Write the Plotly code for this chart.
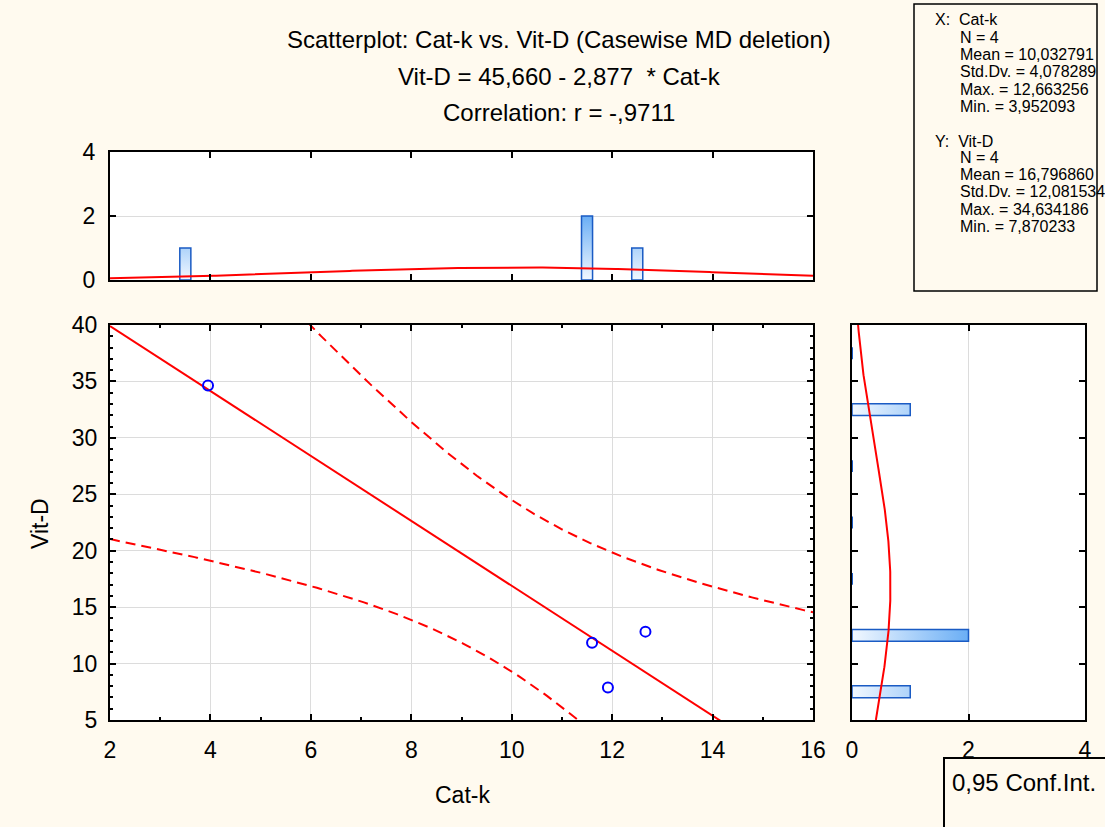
import numpy as np
import plotly.graph_objects as go

W, H = 1105, 827

# ---------------- data ----------------
cat_k = [3.952093, 11.60, 11.916, 12.663256]
vit_d = [34.634186, 11.85, 7.870233, 12.83]

x_name, y_name = "Cat-k", "Vit-D"
n_obs = 4
x_mean, x_sd, x_max, x_min = 10.032791, 4.078289, 12.663256, 3.952093
y_mean, y_sd, y_max, y_min = 16.796860, 12.081534, 34.634186, 7.870233
intercept, slope = 45.660, -2.877
r_corr = -0.9711
t_crit = 4.302653  # t(0.975, df=2)
conf_label = "0,95 Conf.Int."

x_bins = np.arange(2, 17, 1)     # histogram bins for Cat-k
y_bins = np.arange(5, 45, 5)     # histogram bins for Vit-D

main_x_range, main_y_range = [2, 16], [5, 40]
hist_count_range = [0, 4]

# ---------------- helpers ----------------
def px(x):
    return x / W


def py(y):
    return 1 - y / H


def fmt(v):
    return f"{v:.6f}".replace(".", ",")


FONT = "Liberation Sans, Arial, sans-serif"
RED = "#FF0000"
BLUE = "#0000FF"
BG = "#FFFAEF"
BAR_EDGE = "#1A5BC4"
BAR_SCALE = [[0, "#F2F8FF"], [1, "#6AAEF5"]]

fig = go.Figure()

# regression line and confidence bands
xs = np.linspace(main_x_range[0], main_x_range[1], 300)
yhat = intercept + slope * xs
s_res = np.sqrt((1 - r_corr ** 2) * (n_obs - 1) * y_sd ** 2 / (n_obs - 2))
sxx = (n_obs - 1) * x_sd ** 2
hw = t_crit * s_res * np.sqrt(1 / n_obs + (xs - x_mean) ** 2 / sxx)

fig.add_trace(go.Scatter(x=xs, y=yhat, mode="lines",
                         line=dict(color=RED, width=2), xaxis="x", yaxis="y"))
for band in (yhat + hw, yhat - hw):
    fig.add_trace(go.Scatter(x=xs, y=band, mode="lines",
                             line=dict(color=RED, width=2, dash="10px,6px"),
                             xaxis="x", yaxis="y"))

fig.add_trace(go.Scatter(x=cat_k, y=vit_d, mode="markers",
                         marker=dict(symbol="circle-open", size=10,
                                     color=BLUE, line=dict(width=2, color=BLUE)),
                         xaxis="x", yaxis="y"))

# top histogram (Cat-k) - gradient bars
cx, ex = np.histogram(cat_k, bins=x_bins)
cen_x = (ex[:-1] + ex[1:]) / 2
bw_x = ex[1] - ex[0]
half_x = 0.11 * bw_x
for c, cnt in zip(cen_x, cx):
    if cnt <= 0:
        continue
    fig.add_trace(go.Scatter(
        x=[c - half_x, c + half_x, c + half_x, c - half_x, c - half_x],
        y=[0, 0, cnt, cnt, 0], mode="lines", fill="toself",
        fillgradient=dict(type="vertical", colorscale=BAR_SCALE, start=0, stop=2),
        line=dict(color=BAR_EDGE, width=1.5), xaxis="x2", yaxis="y2"))
gx = np.linspace(main_x_range[0], main_x_range[1], 300)
gy = n_obs * bw_x * np.exp(-0.5 * ((gx - x_mean) / x_sd) ** 2) / (x_sd * np.sqrt(2 * np.pi))
fig.add_trace(go.Scatter(x=gx, y=gy, mode="lines", line=dict(color=RED, width=2),
                         xaxis="x2", yaxis="y2"))

# right histogram (Vit-D) - gradient bars
cy, ey = np.histogram(vit_d, bins=y_bins)
cen_y = (ey[:-1] + ey[1:]) / 2
bw_y = ey[1] - ey[0]
half_y = 0.105 * bw_y
for c, cnt in zip(cen_y, cy):
    if cnt <= 0:
        fig.add_trace(go.Scatter(x=[0, 0], y=[c - half_y, c + half_y], mode="lines",
                                 line=dict(color=BAR_EDGE, width=2),
                                 xaxis="x3", yaxis="y3"))
        continue
    fig.add_trace(go.Scatter(
        x=[0, cnt, cnt, 0, 0],
        y=[c - half_y, c - half_y, c + half_y, c + half_y, c - half_y],
        mode="lines", fill="toself",
        fillgradient=dict(type="horizontal", colorscale=BAR_SCALE, start=0, stop=2),
        line=dict(color=BAR_EDGE, width=1.5), xaxis="x3", yaxis="y3"))
hy = np.linspace(main_y_range[0], main_y_range[1], 300)
hx = n_obs * bw_y * np.exp(-0.5 * ((hy - y_mean) / y_sd) ** 2) / (y_sd * np.sqrt(2 * np.pi))
fig.add_trace(go.Scatter(x=hx, y=hy, mode="lines", line=dict(color=RED, width=2),
                         xaxis="x3", yaxis="y3"))

# ---------------- axes ----------------
tickfont = dict(family=FONT, size=23, color="black")
common = dict(showline=True, linewidth=2, linecolor="black", mirror="allticks",
              ticks="inside", tickcolor="black", tickwidth=2, ticklen=6,
              zeroline=False, gridcolor="#DCDCDC", gridwidth=1, tickfont=tickfont,
              automargin=False)

main_xd = [px(110), px(813)]
main_yd = [py(720), py(325)]

fig.update_layout(
    xaxis=dict(domain=main_xd, range=main_x_range, dtick=2, tick0=0, anchor="y",
               showgrid=True, ticklabelstandoff=8,
               minor=dict(ticks="inside", ticklen=3, dtick=1, tickwidth=2,
                          tickcolor="black", showgrid=False), **common),
    yaxis=dict(domain=main_yd, range=main_y_range, dtick=5, tick0=0, anchor="x",
               showgrid=True, ticklabelstandoff=6,
               minor=dict(ticks="inside", ticklen=3, dtick=1, tickwidth=2,
                          tickcolor="black", showgrid=False), **common),
    xaxis2=dict(domain=main_xd, range=main_x_range, dtick=2, tick0=0, anchor="y2",
                showgrid=False, showticklabels=False, **common),
    yaxis2=dict(domain=[py(280), py(152)], range=hist_count_range, dtick=2, tick0=0,
                anchor="x2", showgrid=True, ticklabelstandoff=8, **common),
    xaxis3=dict(domain=[px(852), px(1085)], range=hist_count_range, dtick=2, tick0=0,
                anchor="y3", showgrid=True, ticklabelstandoff=8, **common),
    yaxis3=dict(domain=main_yd, range=main_y_range, dtick=5, tick0=0, anchor="x3",
                showgrid=False, showticklabels=False, **common),
)

# ---------------- text ----------------
ann = []


def text(x, y, s, size=23, xanchor="center", yanchor="middle", angle=0):
    ann.append(dict(x=px(x), y=py(y), xref="paper", yref="paper", text=s,
                    showarrow=False, xanchor=xanchor, yanchor=yanchor,
                    textangle=angle, font=dict(family=FONT, size=size, color="black")))


title1 = f"Scatterplot: {x_name} vs. {y_name} (Casewise MD deletion)"
title2 = f"{y_name} = {intercept:.3f} - {abs(slope):.3f}  * {x_name}".replace(".", ",")
title3 = "Correlation: r = -" + f"{abs(r_corr):.4f}"[1:].replace(".", ",")
text(559, 40, title1, size=24)
text(559, 76, title2, size=24)
text(559, 112, title3, size=24)

text(462, 795, x_name)
text(40, 524, y_name, angle=-90)

stat_rows = [
    (933, 20, f"X:  {x_name}"),
    (958, 37, f"N = {n_obs}"),
    (958, 54, f"Mean = {fmt(x_mean)}"),
    (958, 71, f"Std.Dv. = {fmt(x_sd)}"),
    (958, 89, f"Max. = {fmt(x_max)}"),
    (958, 106, f"Min. = {fmt(x_min)}"),
    (933, 141, f"Y:  {y_name}"),
    (958, 158, f"N = {n_obs}"),
    (958, 175, f"Mean = {fmt(y_mean)}"),
    (958, 192, f"Std.Dv. = {fmt(y_sd)}"),
    (958, 209, f"Max. = {fmt(y_max)}"),
    (958, 226, f"Min. = {fmt(y_min)}"),
]
for x0, y0, s in stat_rows:
    text(x0, y0, s, size=16, xanchor="left")

text(950, 782, conf_label, size=24, xanchor="left")

shapes = [
    dict(type="rect", xref="paper", yref="paper", x0=px(914), x1=px(1097),
         y0=py(291), y1=py(4), line=dict(color="black", width=1.5)),
    dict(type="rect", xref="paper", yref="paper", x0=px(944), x1=px(1120),
         y0=py(840), y1=py(758), line=dict(color="black", width=2)),
]

fig.update_layout(
    width=W, height=H, margin=dict(l=0, r=0, t=0, b=0, autoexpand=False),
    paper_bgcolor=BG, plot_bgcolor="white", showlegend=False,
    annotations=ann, shapes=shapes,
)

fig.write_html("out.html")
